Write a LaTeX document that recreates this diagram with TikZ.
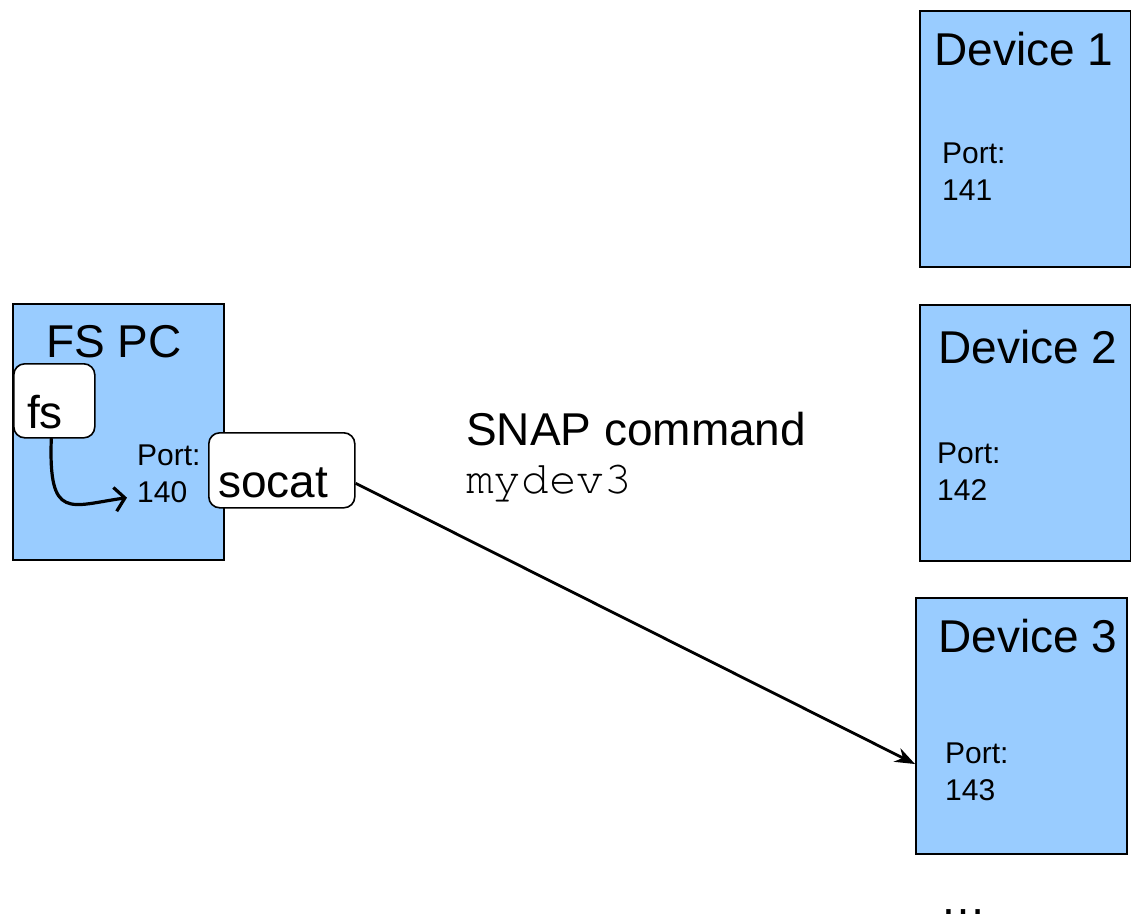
\documentclass[tikz,border=0pt]{standalone}
\usepackage{fontspec}
\setmainfont{Liberation Sans}
\setmonofont{texgyrecursor-regular.otf}
\usetikzlibrary{arrows.meta}
\definecolor{boxblue}{HTML}{99CCFF}
\tikzset{
  hostbox/.style={draw=black, line width=2pt, fill=boxblue, anchor=north west,
    minimum width=211pt, minimum height=256pt, inner sep=0pt},
  procbox/.style={draw=black, line width=1.6pt, fill=white, rounded corners=11pt,
    anchor=north west, inner sep=0pt},
  bigtext/.style={anchor=base west, inner sep=0pt, font=\fontsize{46}{55}\selectfont},
  smalltext/.style={anchor=base west, inner sep=0pt, font=\fontsize{30}{36}\selectfont},
  link/.style={line width=2.8pt, -{Stealth[length=20pt,width=15pt]}},
  hop/.style={line width=3.2pt, line cap=round, -{Straight Barb[length=10pt,width=24pt,line width=3.2pt]}}
}
\begin{document}
\begin{tikzpicture}[x=1pt,y=-1pt]
\useasboundingbox (0,0) rectangle (1131,914);

% host machine running fs and socat
\node[hostbox] (pc) at (12,303) {};
\node[bigtext] (pctitle) at (46,357) {FS PC};
\node[procbox, minimum width=81pt, minimum height=74pt] (fs) at (13,363) {};
\node[bigtext] (fstext) at (27,428) {fs};
\node[smalltext] (pport) at (137,465) {Port:};
\node[smalltext] (p140) at (137,502) {140};
\node[procbox, minimum width=146pt, minimum height=75pt] (socat) at (208,432) {};
\node[bigtext] (socattext) at (218,497) {socat};

% remote devices
\node[hostbox] (dev1) at (919,10) {};
\node[bigtext] (d1title) at (934,65) {Device 1};
\node[smalltext] (d1port) at (942,163) {Port:};
\node[smalltext] (d1num) at (942,200) {141};

\node[hostbox] (dev2) at (919,304) {};
\node[bigtext] (d2title) at (938,363) {Device 2};
\node[smalltext] (d2port) at (937,463) {Port:};
\node[smalltext] (d2num) at (937,500) {142};

\node[hostbox] (dev3) at (915,597) {};
\node[bigtext] (d3title) at (938,652) {Device 3};
\node[smalltext] (d3port) at (945,763) {Port:};
\node[smalltext] (d3num) at (945,800) {143};

\node[bigtext] (more) at (940,914) {\dots};

% command label
\node[bigtext] (cmd) at (466,445) {SNAP command};
\node[anchor=base west, inner sep=0pt, font=\ttfamily\fontsize{46}{55}\selectfont] (cmdarg) at (466,493) {mydev3};

% connectors
\draw[hop] ([xshift=-3pt]fs.south) .. controls ([xshift=-6pt,yshift=-83pt]fs.south) and ([xshift=-67pt,yshift=-14pt]p140.west) .. ([xshift=-10pt,yshift=-6pt]p140.west);
\draw[link] ([yshift=-13pt]socat.east) -- ([yshift=-38pt]dev3.west);
\end{tikzpicture}
\end{document}
